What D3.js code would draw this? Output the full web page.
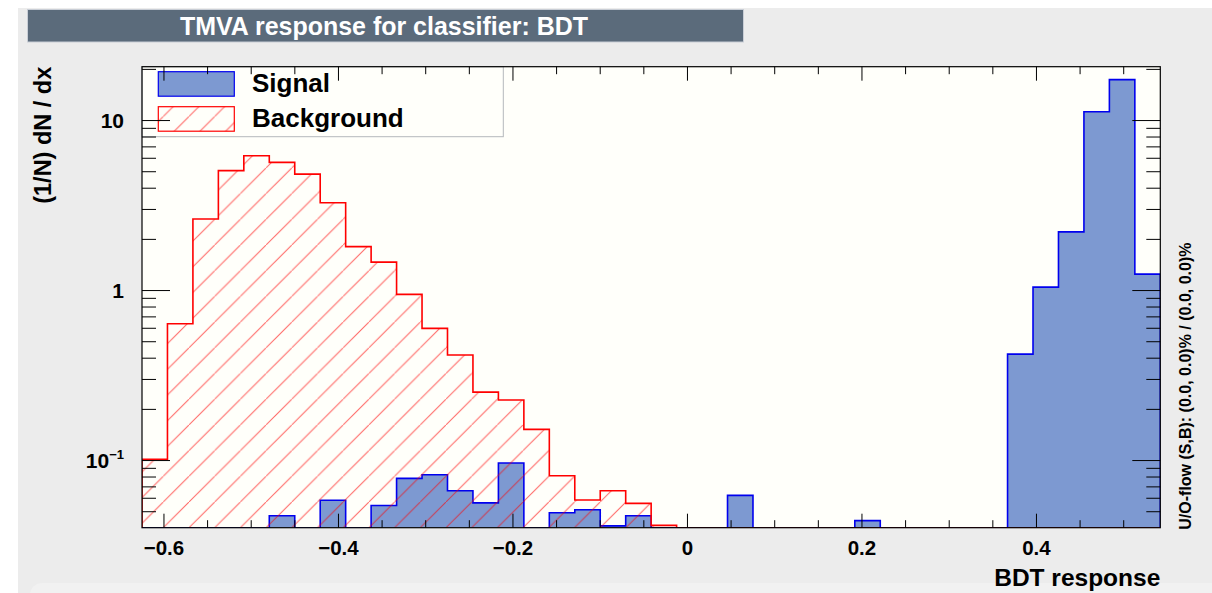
<!DOCTYPE html>
<html>
<head>
<meta charset="utf-8">
<script src="https://cdn.jsdelivr.net/npm/d3@7/dist/d3.min.js"></script>
<style>
  html, body { margin: 0; padding: 0; background: #ffffff; }
  svg { display: block; font-family: "Liberation Sans", Arial, Helvetica, sans-serif; font-weight: bold; }
</style>
</head>
<body>
<svg id="chart" width="1212" height="593"></svg>
<script>
// ---------------- data ----------------
const nBins = 40;
const xRange = [-0.6246, 0.5425];
const yRange = [0.04, 20.6];
const signalValues = [0, 0, 0, 0, 0, 0.047, 0, 0.058, 0, 0.054,
                      0.078, 0.082, 0.066, 0.056, 0.096, 0, 0.049, 0.051, 0.041, 0.047,
                      0, 0, 0, 0.062, 0, 0, 0, 0, 0.044, 0,
                      0, 0, 0, 0, 0.42, 1.04, 2.20, 11.2, 17.3, 1.24];
const backgroundValues = [0.101, 0.634, 2.62, 5.04, 6.17, 5.64, 4.81, 3.26, 1.80, 1.46,
                          0.943, 0.595, 0.415, 0.251, 0.2255, 0.1515, 0.0808, 0.0582, 0.066, 0.0556,
                          0.0413, 0, 0, 0, 0, 0, 0, 0, 0, 0,
                          0, 0, 0, 0, 0, 0, 0, 0, 0, 0];
const xMajorTicks = [-0.6, -0.4, -0.2, 0, 0.2, 0.4];
const xMinorTicks = [-0.55, -0.5, -0.45, -0.35, -0.3, -0.25, -0.15, -0.1, -0.05,
                     0.05, 0.1, 0.15, 0.25, 0.3, 0.35, 0.45, 0.5];
const yMajorTicks = [0.1, 1, 10];
const yMinorTicks = [0.05, 0.06, 0.07, 0.08, 0.09, 0.2, 0.3, 0.4, 0.5, 0.6, 0.7, 0.8, 0.9,
                     2, 3, 4, 5, 6, 7, 8, 9, 20];
const yTickLabels = [{v: 10, base: "10", exp: ""}, {v: 1, base: "1", exp: ""}, {v: 0.1, base: "10", exp: "\u22121"}];
const titleText = "TMVA response for classifier: BDT";
const xLabel = "BDT response";
const yLabel = "(1/N) dN / dx";
const overflowText = "U/O-flow (S,B): (0.0, 0.0)% / (0.0, 0.0)%";
const legendItems = ["Signal", "Background"];

// ---------------- layout ----------------
const L = 142, R = 1160.3, T = 66.7, B = 527.7;
const sigFill = "#7d99d1", sigLine = "#0000ee", bkgLine = "#ff0000";

const svg = d3.select("#chart");
svg.append("rect").attr("x", 0).attr("y", 0).attr("width", 1212).attr("height", 593).attr("fill", "#ffffff");
svg.append("rect").attr("x", 18).attr("y", 8).attr("width", 1194).attr("height", 585).attr("fill", "#ececec");
svg.append("rect").attr("x", 30).attr("y", 583).attr("width", 1200).attr("height", 40).attr("rx", 12).attr("fill", "#f1f1f1");

// hatch pattern
const hs = 25.7;
const defs = svg.append("defs");
const pat = defs.append("pattern").attr("id", "hatch").attr("patternUnits", "userSpaceOnUse")
  .attr("width", hs).attr("height", hs).attr("patternTransform", `translate(${163.3},${B})`);
pat.append("line").attr("x1", -2).attr("y1", hs + 2).attr("x2", hs + 2).attr("y2", -2)
  .attr("stroke", "#ff0000").attr("stroke-opacity", 0.6).attr("stroke-width", 1);
defs.append("clipPath").attr("id", "frameClip").append("rect")
  .attr("x", L).attr("y", T).attr("width", R - L).attr("height", B - T);

// scales
const x = d3.scaleLinear().domain(xRange).range([L, R]);
const y = d3.scaleLog().domain(yRange).range([B, T]);
const binW = (xRange[1] - xRange[0]) / nBins;

// title
svg.append("rect").attr("x", 27.5).attr("y", 9.5).attr("width", 716).attr("height", 32.5)
  .attr("fill", "#5b6b7b").attr("stroke", "#c9ced6").attr("stroke-width", 1);
svg.append("text").attr("x", 384).attr("y", 35).attr("text-anchor", "middle")
  .attr("fill", "#ffffff").attr("font-size", 26).attr("textLength", 408)
  .attr("lengthAdjust", "spacingAndGlyphs").text(titleText);

// plot background
svg.append("rect").attr("x", L).attr("y", T).attr("width", R - L).attr("height", B - T).attr("fill", "#fffffa");

// histogram path helper
function histPath(vals) {
  const clampY = v => y(Math.min(Math.max(v, yRange[0]), yRange[1]));
  const p = d3.path();
  p.moveTo(x(xRange[0]), B);
  vals.forEach((v, i) => {
    const x0 = x(xRange[0] + i * binW), x1 = x(xRange[0] + (i + 1) * binW);
    p.lineTo(x0, clampY(v));
    p.lineTo(x1, clampY(v));
  });
  p.lineTo(x(xRange[1]), B);
  return p.toString();
}

const plot = svg.append("g").attr("clip-path", "url(#frameClip)");
plot.append("path").attr("d", histPath(signalValues) + "Z").attr("fill", sigFill).attr("stroke", "none");
plot.append("path").attr("d", histPath(signalValues)).attr("fill", "none").attr("stroke", sigLine).attr("stroke-width", 1.6);
plot.append("path").attr("d", histPath(backgroundValues) + "Z").attr("fill", "url(#hatch)").attr("stroke", "none");
plot.append("path").attr("d", histPath(backgroundValues)).attr("fill", "none").attr("stroke", bkgLine).attr("stroke-width", 1.6);

// legend
const lg = svg.append("g");
lg.append("rect").attr("x", L).attr("y", T).attr("width", 503.3 - L).attr("height", 136.7 - T)
  .attr("fill", "#fffffa").attr("stroke", "#b4b8bc").attr("stroke-width", 1);
const swatchY = [71.7, 106.7];
legendItems.forEach((name, i) => {
  lg.append("rect").attr("x", 158.3).attr("y", swatchY[i]).attr("width", 76).attr("height", 24.5)
    .attr("fill", i === 0 ? sigFill : "url(#hatch)")
    .attr("stroke", i === 0 ? sigLine : bkgLine).attr("stroke-width", 1.2);
  lg.append("text").attr("x", 252).attr("y", swatchY[i] + 20.5).attr("font-size", 26)
    .attr("fill", "#000").text(name);
});

// axes
function styleAxis(g) {
  g.select(".domain").remove();
  g.selectAll(".tick line").attr("stroke", "#000").attr("stroke-width", 1);
}
svg.append("g").attr("transform", `translate(0,${B})`)
  .call(d3.axisBottom(x).tickValues(xMajorTicks).tickSize(-14).tickPadding(13)
    .tickFormat(d => d === 0 ? "0" : d3.format(".1f")(d).replace("-", "\u2212")))
  .call(styleAxis)
  .call(g => g.selectAll("text").attr("font-size", 20.5).attr("font-family", null).attr("fill", "#000"));
svg.append("g").attr("transform", `translate(0,${B})`)
  .call(d3.axisBottom(x).tickValues(xMinorTicks).tickSize(-7.5).tickFormat(""))
  .call(styleAxis);
svg.append("g").attr("transform", `translate(0,${T})`)
  .call(d3.axisTop(x).tickValues(xMajorTicks).tickSize(-14).tickFormat(""))
  .call(styleAxis);
svg.append("g").attr("transform", `translate(0,${T})`)
  .call(d3.axisTop(x).tickValues(xMinorTicks).tickSize(-7.5).tickFormat(""))
  .call(styleAxis);
svg.append("g").attr("transform", `translate(${L},0)`)
  .call(d3.axisLeft(y).tickValues(yMajorTicks).tickSize(-28).tickFormat(""))
  .call(styleAxis);
svg.append("g").attr("transform", `translate(${L},0)`)
  .call(d3.axisLeft(y).tickValues(yMinorTicks).tickSize(-14).tickFormat(""))
  .call(styleAxis);
svg.append("g").attr("transform", `translate(${R},0)`)
  .call(d3.axisRight(y).tickValues(yMajorTicks).tickSize(-28).tickFormat(""))
  .call(styleAxis);
svg.append("g").attr("transform", `translate(${R},0)`)
  .call(d3.axisRight(y).tickValues(yMinorTicks).tickSize(-14).tickFormat(""))
  .call(styleAxis);

// y tick labels
yTickLabels.forEach(t => {
  const tx = svg.append("text").attr("x", 124).attr("y", y(t.v) + 7.5).attr("text-anchor", "end")
    .attr("font-size", 21).attr("fill", "#000");
  tx.append("tspan").text(t.base);
  if (t.exp) tx.append("tspan").attr("font-size", 13).attr("dy", -9).text(t.exp);
});

// frame
svg.append("rect").attr("x", L).attr("y", T).attr("width", R - L).attr("height", B - T)
  .attr("fill", "none").attr("stroke", "#000").attr("stroke-width", 1.2);

// axis titles
svg.append("text").attr("x", R).attr("y", 586).attr("text-anchor", "end").attr("font-size", 24.5)
  .attr("fill", "#000").text(xLabel);
svg.append("text").attr("transform", `translate(51,${T}) rotate(-90)`).attr("text-anchor", "end")
  .attr("font-size", 23.5).attr("fill", "#000").text(yLabel);
svg.append("text").attr("transform", `translate(1191,${B + 2}) rotate(-90)`).attr("text-anchor", "start")
  .attr("font-size", 16).attr("fill", "#000").text(overflowText);
</script>
</body>
</html>
